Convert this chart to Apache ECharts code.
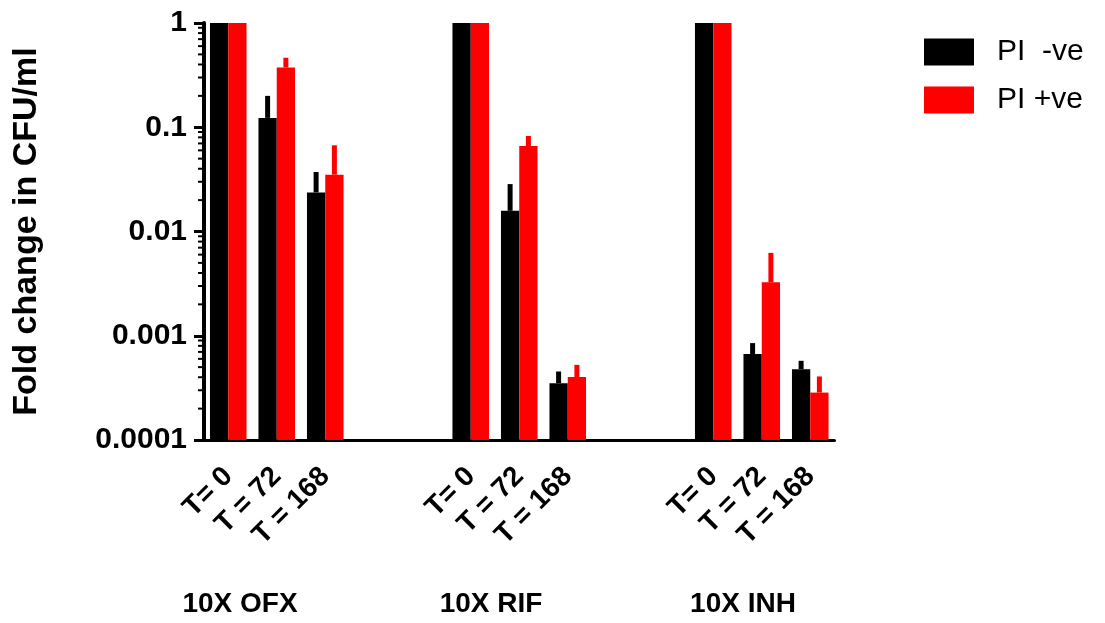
<!DOCTYPE html>
<html>
<head>
<meta charset="utf-8">
<style>
  html, body { margin: 0; padding: 0; background: #fff; }
  #chart { width: 1105px; height: 623px; }
</style>
<script src="https://cdn.jsdelivr.net/npm/echarts@6/dist/echarts.min.js"></script>
</head>
<body>
<div id="chart"></div>
<script>
// Sampling times and treatment groups
const timeLabels = ['T= 0', 'T = 72', 'T = 168'];
const groupNames = ['10X OFX', '10X RIF', '10X INH'];

// Fold change in CFU/ml (mean and upper end of the error bar), per group then time
const piNegMean  = [1, 0.123, 0.0237, 1, 0.0158, 0.000351, 1, 0.000667, 0.000478];
const piNegUpper = [1, 0.200, 0.0372, 1, 0.0285, 0.000454, 1, 0.00085, 0.000575];
const piPosMean  = [1, 0.375, 0.0351, 1, 0.066, 0.000401, 1, 0.00326, 0.000285];
const piPosUpper = [1, 0.464, 0.0671, 1, 0.0825, 0.000526, 1, 0.00624, 0.000407];

// Y axis decade labels
const yTickLabels = ['0.0001', '0.001', '0.01', '0.1', '1'];
const Y_MIN = 0.0001, Y_MAX = 1;

// Two empty slots separate the treatment groups on the category axis
const GAP = 2;
const categories = [];
const slotIndex = [];
groupNames.forEach((g, gi) => {
  timeLabels.forEach((t) => { slotIndex.push(categories.length); categories.push(t); });
  if (gi < groupNames.length - 1) for (let k = 0; k < GAP; k++) categories.push('');
});

function seriesData(mean, upper) {
  return mean.map((m, i) => [slotIndex[i], m, upper[i]]);
}

// Unlabelled minor ticks at 2..9 x each decade
const minorTicks = [];
for (let d = -4; d < 0; d++) for (let k = 2; k <= 9; k++) minorTicks.push(+(k * Math.pow(10, d)).toPrecision(3));

const FONT = 'Liberation Sans, Arial, Helvetica, sans-serif';

// Bar anchored on the axis floor, with an upward-only error bar
function barRenderer(side) {
  return function (params, api) {
    const idx = api.value(0), mean = api.value(1), upper = api.value(2);
    const band = api.size([1, 0])[0];
    const w = band * 0.377;
    const top = api.coord([idx, mean]);
    const base = api.coord([idx, Y_MIN]);
    const err = api.coord([idx, upper]);
    const x = side < 0 ? top[0] - w : top[0];
    const color = api.visual('color');
    return {
      type: 'group',
      children: [
        { type: 'rect', shape: { x: x, y: top[1], width: w, height: base[1] - top[1] }, style: { fill: color } },
        { type: 'rect', shape: { x: x + w / 2 - 2.5, y: err[1], width: 5, height: top[1] - err[1] }, style: { fill: color } }
      ]
    };
  };
}

function minorTickRenderer(params, api) {
  const p = api.coord([0, api.value(0)]);
  const x0 = p[0] - api.size([1, 0])[0] / 2;
  return {
    type: 'line',
    shape: { x1: x0 - 6, y1: p[1], x2: x0, y2: p[1] },
    style: { stroke: '#000', lineWidth: 2 }
  };
}

const chart = echarts.init(document.getElementById('chart'), null, { renderer: 'canvas' });
chart.setOption({
  animation: false,
  backgroundColor: '#fff',
  textStyle: { fontFamily: FONT },
  grid: { left: 204, right: 270.5, top: 23, bottom: 183, containLabel: false },
  legend: {
    left: 919, top: 32, orient: 'vertical',
    itemWidth: 50, itemHeight: 27, itemGap: 18, icon: 'rect',
    textStyle: { fontFamily: FONT, fontSize: 30, color: '#000', padding: [0, 0, 0, 18] },
    data: ['PI  -ve', 'PI +ve']
  },
  xAxis: {
    type: 'category',
    data: categories,
    boundaryGap: true,
    axisLine: { lineStyle: { color: '#000', width: 3 } },
    axisTick: { show: false },
    axisLabel: {
      interval: 0, rotate: 45, margin: 32,
      fontFamily: FONT, fontSize: 28, fontWeight: 'bold', color: '#000'
    },
    splitLine: { show: false }
  },
  yAxis: {
    type: 'log',
    logBase: 10,
    min: Y_MIN, max: Y_MAX,
    name: 'Fold change in CFU/ml',
    nameLocation: 'middle',
    nameGap: 160,
    nameTextStyle: { fontFamily: FONT, fontSize: 34, fontWeight: 'bold', color: '#000' },
    axisLine: { show: true, lineStyle: { color: '#000', width: 4 } },
    axisTick: { show: true, length: 10, lineStyle: { color: '#000', width: 3 } },
    axisLabel: {
      margin: 17, fontFamily: FONT, fontSize: 30, fontWeight: 'bold', color: '#000',
      formatter: (v) => yTickLabels[Math.round(Math.log10(v)) + 4]
    },
    splitLine: { show: false }
  },
  graphic: groupNames.map((n, i) => ({
    type: 'text',
    x: [240, 491, 743][i], y: 604,
    style: { text: n, align: 'center', verticalAlign: 'middle', font: 'bold 28px ' + FONT, fill: '#000' }
  })),
  series: [
    {
      type: 'custom', name: 'minor', silent: true,
      renderItem: minorTickRenderer,
      data: minorTicks.map((v) => [v]),
      encode: { y: 0 },
      z: 1
    },
    {
      type: 'custom', name: 'PI  -ve',
      itemStyle: { color: '#000000' },
      renderItem: barRenderer(-1),
      encode: { x: 0, y: [1, 2] },
      data: seriesData(piNegMean, piNegUpper),
      z: 2
    },
    {
      type: 'custom', name: 'PI +ve',
      itemStyle: { color: '#ff0000' },
      renderItem: barRenderer(1),
      encode: { x: 0, y: [1, 2] },
      data: seriesData(piPosMean, piPosUpper),
      z: 2
    }
  ]
});
</script>
</body>
</html>
